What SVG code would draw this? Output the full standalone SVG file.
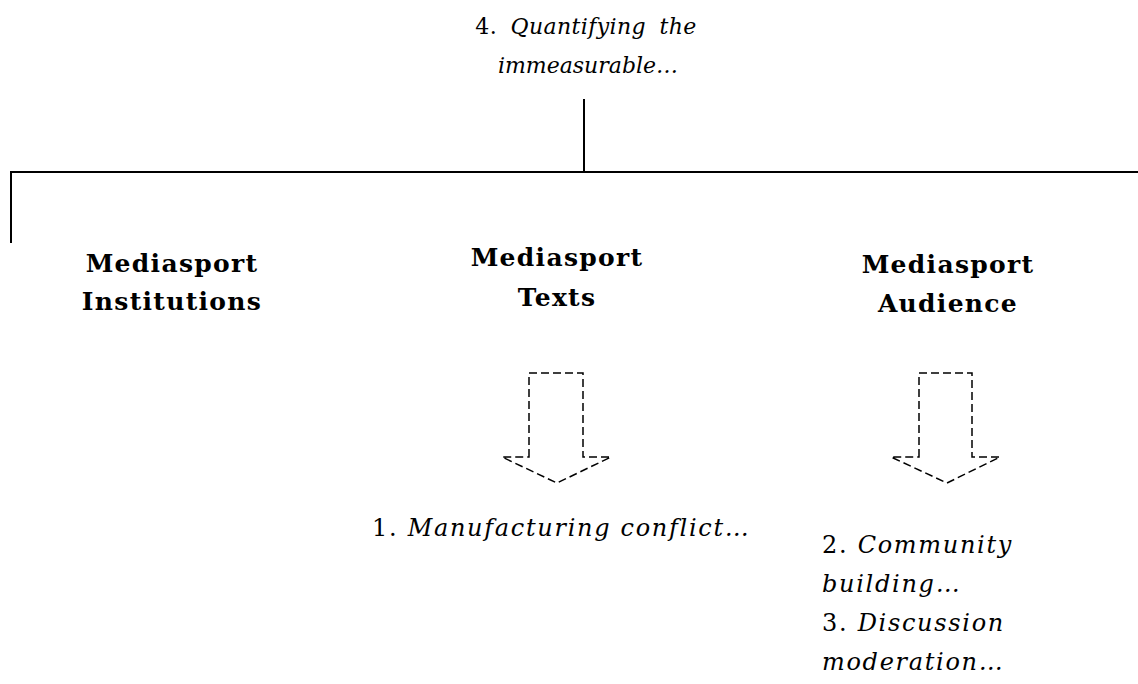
<svg xmlns="http://www.w3.org/2000/svg" width="1138" height="684" viewBox="0 0 1138 684">
<style>
text{font-family:"DejaVu Serif","Liberation Serif",serif;fill:#000}
.b{font-weight:bold;font-size:25px;letter-spacing:1.3px}
.t{font-size:22px}
.n{font-size:24px;letter-spacing:1.7px}
.i{font-style:italic}
.line{stroke:#000;stroke-width:2;fill:none}
.arrow{stroke:#000;stroke-width:1.5;fill:none;stroke-dasharray:8 4}
</style>
<rect width="1138" height="684" fill="#fff"/>
<g id="connectors">
<line class="line" x1="584" y1="99" x2="584" y2="173"/>
<line class="line" x1="10" y1="172" x2="1138" y2="172"/>
<line class="line" x1="11" y1="171" x2="11" y2="243"/>
</g>
<g id="node-quantifying">
<text class="t" text-anchor="middle" x="586" y="34" word-spacing="6" letter-spacing="0.4">4. <tspan class="i">Quantifying the</tspan></text>
<text class="t i" text-anchor="middle" x="588" y="73">immeasurable…</text>
</g>
<g id="node-institutions">
<text class="b" text-anchor="middle" x="172" y="272">Mediasport</text>
<text class="b" text-anchor="middle" x="172" y="310">Institutions</text>
</g>
<g id="node-texts">
<text class="b" text-anchor="middle" x="557" y="266">Mediasport</text>
<text class="b" text-anchor="middle" x="557" y="306">Texts</text>
</g>
<g id="node-audience">
<text class="b" text-anchor="middle" x="948" y="273">Mediasport</text>
<text class="b" text-anchor="middle" x="948" y="312">Audience</text>
</g>
<g id="arrow-texts">
<path class="arrow" d="M529,457 V373 H583 V457 H611 L557,483 L502,457 Z"/>
</g>
<g id="arrow-audience">
<path class="arrow" d="M919,457 V373 H972 V457 H1000 L947,483 L891,457 Z"/>
</g>
<g id="node-conflict">
<text class="n" x="372" y="536">1. <tspan class="i">Manufacturing conflict…</tspan></text>
</g>
<g id="node-community">
<text class="n" x="822" y="553">2. <tspan class="i">Community</tspan></text>
<text class="n i" x="822" y="592">building…</text>
<text class="n" x="822" y="631">3. <tspan class="i">Discussion</tspan></text>
<text class="n i" x="822" y="670">moderation…</text>
</g>
</svg>
